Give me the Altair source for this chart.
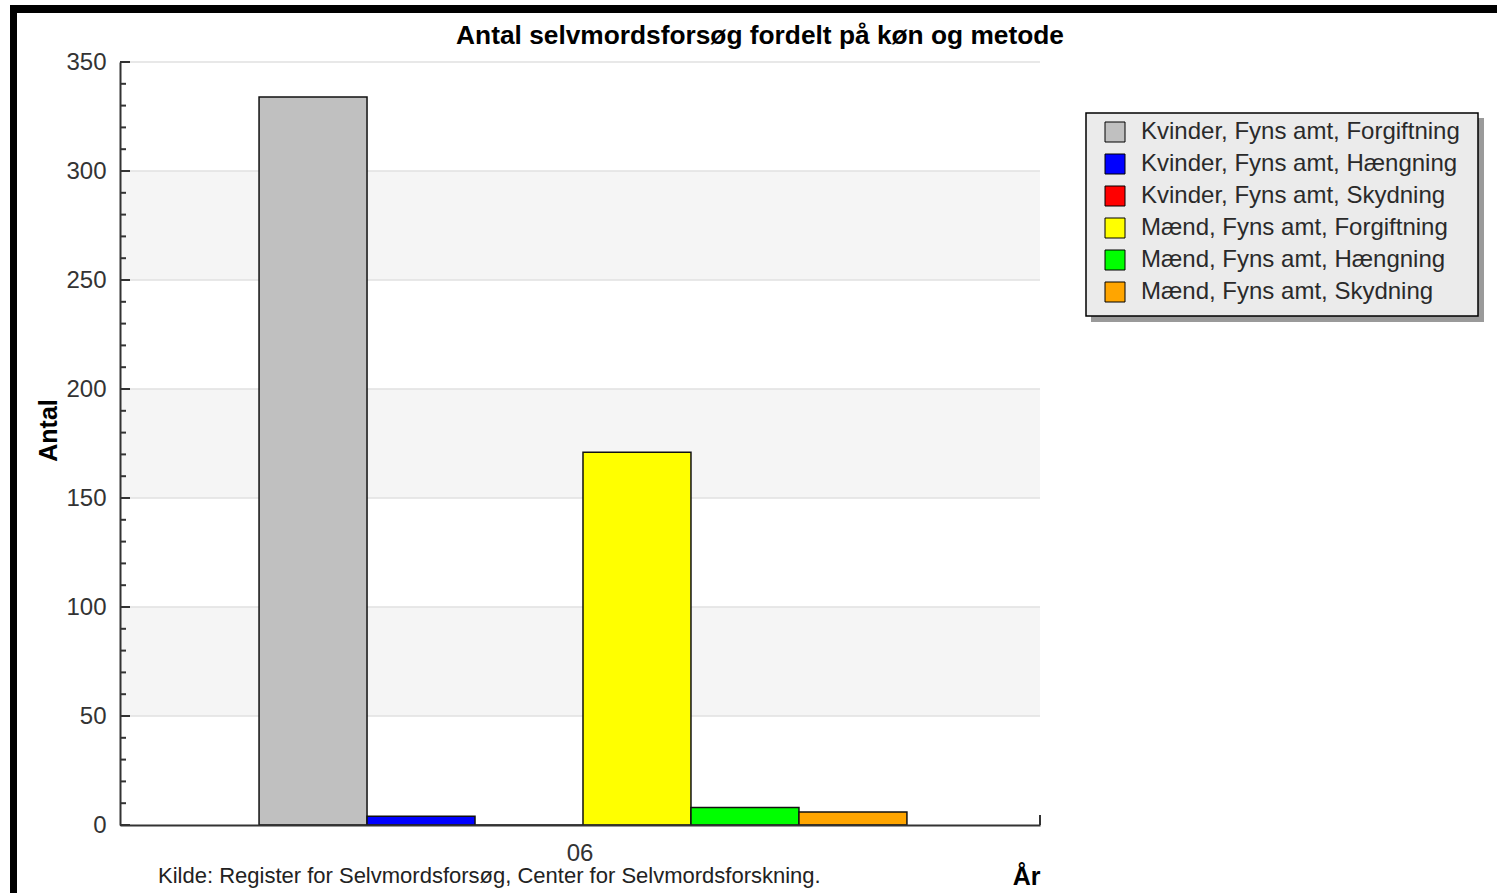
import altair as alt
import pandas as pd

# ---- data -------------------------------------------------------------
years = ["06"]
series = [
    "Kvinder, Fyns amt, Forgiftning",
    "Kvinder, Fyns amt, Hængning",
    "Kvinder, Fyns amt, Skydning",
    "Mænd, Fyns amt, Forgiftning",
    "Mænd, Fyns amt, Hængning",
    "Mænd, Fyns amt, Skydning",
]
counts = [334, 4, 0, 171, 8, 6]
colors = ["#c0c0c0", "#0000ff", "#ff0000", "#ffff00", "#00ff00", "#ffa500"]

y_ticks_major = [0, 50, 100, 150, 200, 250, 300, 350]
y_ticks_minor = [v for v in range(0, 351, 10) if v % 50 != 0]
band_low = [50, 150, 250]
band_high = [100, 200, 300]

title_text = "Antal selvmordsforsøg fordelt på køn og metode"
source_text = "Kilde: Register for Selvmordsforsøg, Center for Selvmordsforskning."

# ---- layout -----------------------------------------------------------
W, H = 920, 763
FONT = "Liberation Sans"

bars_df = pd.DataFrame({"year": years * len(series), "series": series, "count": counts})
bands_df = pd.DataFrame({"lo": band_low, "hi": band_high})
grid_df = pd.DataFrame({"v": y_ticks_major[1:]})
major_df = pd.DataFrame({"v": y_ticks_major})
minor_df = pd.DataFrame({"v": y_ticks_minor})

yscale = alt.Scale(domain=[0, 350], nice=False, zero=True)
y_axis = alt.Axis(
    title="Antal", values=y_ticks_major, domain=True,
    domainColor="#333333", domainWidth=2, ticks=False, tickSize=0,
    grid=False, labelFont=FONT, labelFontSize=24, labelColor="#333333",
    labelPadding=14, titleFont=FONT, titleFontSize=25,
    titleFontWeight="bold", titleColor="black", titleX=-72,
    titleY=368, titleAngle=270, titleAlign="center",
    titleBaseline="middle", zindex=1,
)

bands = alt.Chart(bands_df).mark_rect(fill="#f5f5f5").encode(
    x=alt.value(0), x2=alt.value(W),
    y=alt.Y("lo:Q", scale=yscale, axis=y_axis), y2="hi:Q",
)

grid = alt.Chart(grid_df).mark_rule(color="#e0e0e0", strokeWidth=1.5).encode(
    x=alt.value(0), x2=alt.value(W),
    y=alt.Y("v:Q", scale=yscale, axis=y_axis),
)

bars = alt.Chart(bars_df).mark_bar(stroke="#111111", strokeWidth=1.5, opacity=1).encode(
    x=alt.X(
        "year:N",
        scale=alt.Scale(paddingInner=0, paddingOuter=0.21, align=0.511),
        axis=alt.Axis(
            title="År", labelAngle=0, domain=True, domainColor="#333333",
            domainWidth=2, ticks=False, tickSize=0, labelFont=FONT,
            labelFontSize=24, labelColor="#333333", labelPadding=16,
            labelOffset=-3, titleFont=FONT, titleFontSize=25,
            titleFontWeight="bold", titleColor="black", titleX=W, titleY=51,
            titleAlign="right", titleBaseline="middle", zindex=1,
        ),
    ),
    xOffset=alt.XOffset("series:N", sort=series,
                        scale=alt.Scale(paddingInner=0, paddingOuter=0)),
    y=alt.Y("count:Q", scale=yscale, axis=y_axis),
    color=alt.Color(
        "series:N", sort=series,
        scale=alt.Scale(domain=series, range=colors),
        legend=alt.Legend(
            title=None, orient="none", legendX=966, legendY=49,
            strokeColor="transparent", padding=9,
            symbolType="square", symbolSize=400, symbolStrokeColor="black",
            symbolStrokeWidth=1, symbolOffset=8, labelOffset=14,
            labelFont=FONT, labelFontSize=24, labelColor="#2a2a2a",
            labelLimit=600, rowPadding=8,
        ),
    ),
)

# inward-pointing ticks on the value axis
minor = alt.Chart(minor_df).mark_rule(color="#333333", strokeWidth=2).encode(
    x=alt.value(0), x2=alt.value(6), y=alt.Y("v:Q", scale=yscale, axis=y_axis),
)
major = alt.Chart(major_df).mark_rule(color="#333333", strokeWidth=2).encode(
    x=alt.value(0), x2=alt.value(10), y=alt.Y("v:Q", scale=yscale, axis=y_axis),
)
end_tick = alt.Chart(pd.DataFrame({"v": [0]})).mark_rule(
    color="#333333", strokeWidth=2).encode(
    x=alt.value(W), y=alt.value(H - 10), y2=alt.value(H),
)

# legend panel with drop shadow, and the outer frame
shadow = alt.Chart(pd.DataFrame({"v": [0]})).mark_rect(fill="#9a9a9a").encode(
    x=alt.value(971), x2=alt.value(1364), y=alt.value(56), y2=alt.value(260),
)
panel = alt.Chart(pd.DataFrame({"v": [0]})).mark_rect(
    fill="#ebebeb", stroke="black", strokeWidth=1.5).encode(
    x=alt.value(966), x2=alt.value(1358), y=alt.value(51), y2=alt.value(254),
)
frame_top = alt.Chart(pd.DataFrame({"v": [0]})).mark_rect(fill="black").encode(
    x=alt.value(-110), x2=alt.value(1377), y=alt.value(-57), y2=alt.value(-49),
)
frame_left = alt.Chart(pd.DataFrame({"v": [0]})).mark_rect(fill="black").encode(
    x=alt.value(-110), x2=alt.value(-103), y=alt.value(-57), y2=alt.value(831),
)

title = alt.Chart(pd.DataFrame({"t": [title_text]})).mark_text(
    font=FONT, fontSize=26.3, fontWeight="bold", color="black",
    align="center", baseline="middle",
).encode(text="t:N", x=alt.value(640), y=alt.value(-26))

source = alt.Chart(pd.DataFrame({"t": [source_text]})).mark_text(
    font=FONT, fontSize=22, color="#222222", align="left", baseline="middle",
).encode(text="t:N", x=alt.value(38), y=alt.value(814))

chart = alt.layer(
    bands, grid, bars, minor, major, end_tick, shadow, panel,
    frame_top, frame_left, title, source,
).properties(
    width=W, height=H,
    autosize=alt.AutoSizeParams(type="none"),
    padding={"left": 120, "top": 62, "right": 457, "bottom": 68},
    background="white",
).configure_view(stroke=None)

chart.save("out.html", embed_options={"renderer": "svg", "actions": False})
